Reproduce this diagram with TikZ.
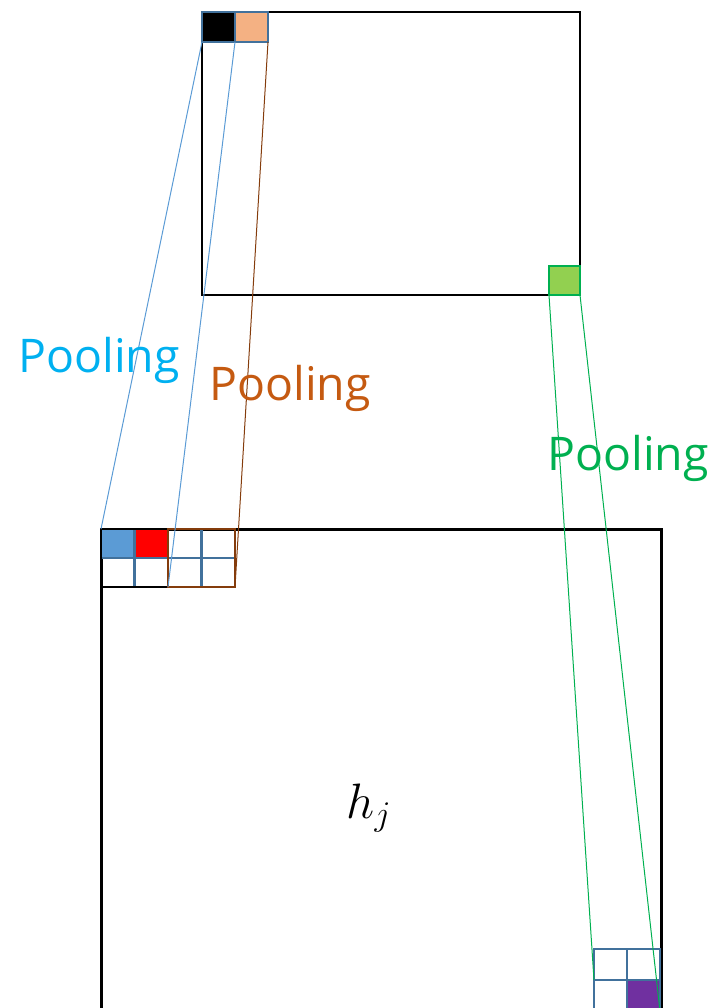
\documentclass[tikz,border=0pt]{standalone}
\usepackage{fontspec}
\setmainfont{Open Sans}
\usetikzlibrary{positioning}
\definecolor{cgrid}{RGB}{65,113,156}
\definecolor{cpoolb}{RGB}{0,176,240}
\definecolor{cpoolo}{RGB}{197,90,17}
\definecolor{cpoolg}{RGB}{0,176,80}
\definecolor{cbrown}{RGB}{132,60,12}
\definecolor{clink}{RGB}{91,155,213}
\definecolor{clblue}{RGB}{91,155,213}
\definecolor{cpeach}{RGB}{244,177,131}
\definecolor{clgreen}{RGB}{146,208,80}
\definecolor{cpurple}{RGB}{112,48,160}
\tikzset{
  fmap/.style={draw=black, line width=1pt},
  cell/.style={draw=cgrid, line width=1.1pt, inner sep=0pt, outer sep=0pt,
               minimum width=16.5pt, minimum height=15pt},
  bcell/.style={cell, minimum width=16.75pt, minimum height=14.5pt},
  rcell/.style={cell, minimum width=16.5pt, minimum height=15.5pt},
  link/.style={line width=0.5pt},
  plab/.style={font=\fontsize{23.2}{26}\selectfont, inner sep=0pt, anchor=base west},
}

\begin{document}
\begin{tikzpicture}[x=0.5pt, y=-0.5pt]
  \useasboundingbox (0,0) rectangle (717,1008);
  \clip (0,0) rectangle (717,1008);
  % feature maps
  \draw[fmap] (202,12) rectangle (580,295);
  \draw[fmap, line width=1.5pt] (101,529) rectangle (661,1040);
  % pooled cells (top map)
  \node[cell, fill=black, anchor=north west] (tk) at (202,12) {};
  \node[cell, fill=cpeach, right=0pt of tk] (to) {};
  \node[cell, draw=cpoolg, fill=clgreen, minimum width=15.5pt, minimum height=14.5pt,
        anchor=south east] (tg) at (580,295) {};
  % input cells (bottom map)
  \node[bcell, fill=clblue, anchor=north west] (b11) at (101,529) {};
  \node[bcell, fill=red, right=0pt of b11] (b12) {};
  \node[bcell, right=0pt of b12] (b13) {};
  \node[bcell, right=0pt of b13] (b14) {};
  \node[bcell, below=0pt of b11] (b21) {};
  \node[bcell, right=0pt of b21] (b22) {};
  \node[bcell, right=0pt of b22] (b23) {};
  \node[bcell, right=0pt of b23] (b24) {};
  \draw[black, line width=1pt] (b11.north west) rectangle (b22.south east);
  \draw[cbrown, line width=1.1pt] (b13.north west) rectangle (b24.south east);
  \node[rcell, anchor=north west] (r11) at (594,949) {};
  \node[rcell, right=0pt of r11] (r12) {};
  \node[rcell, below=0pt of r11] (r21) {};
  \node[rcell, fill=cpurple, right=0pt of r21] (r22) {};
  % pooling links
  \draw[link, clink] (tk.south west) -- (b11.north west);
  \draw[link, clink] (tk.south east) -- (b22.south east);
  \draw[link, cbrown] (to.south east) -- (b24.south east);
  \draw[link, cpoolg] (tg.south west) -- (r21.north west);
  \draw[link, cpoolg] (tg.south east) -- (r22.south east);
  % labels
  \node[plab, text=cpoolb] (lb) at (18,372) {Pooling};
  \node[plab, text=cpoolo] (lo) at (209,400) {Pooling};
  \node[plab, text=cpoolg] (lg) at (547,470) {Pooling};
  \node[font=\fontsize{25}{28}\selectfont] (hj) at (369,808) {$h_j$};
\end{tikzpicture}
\end{document}
